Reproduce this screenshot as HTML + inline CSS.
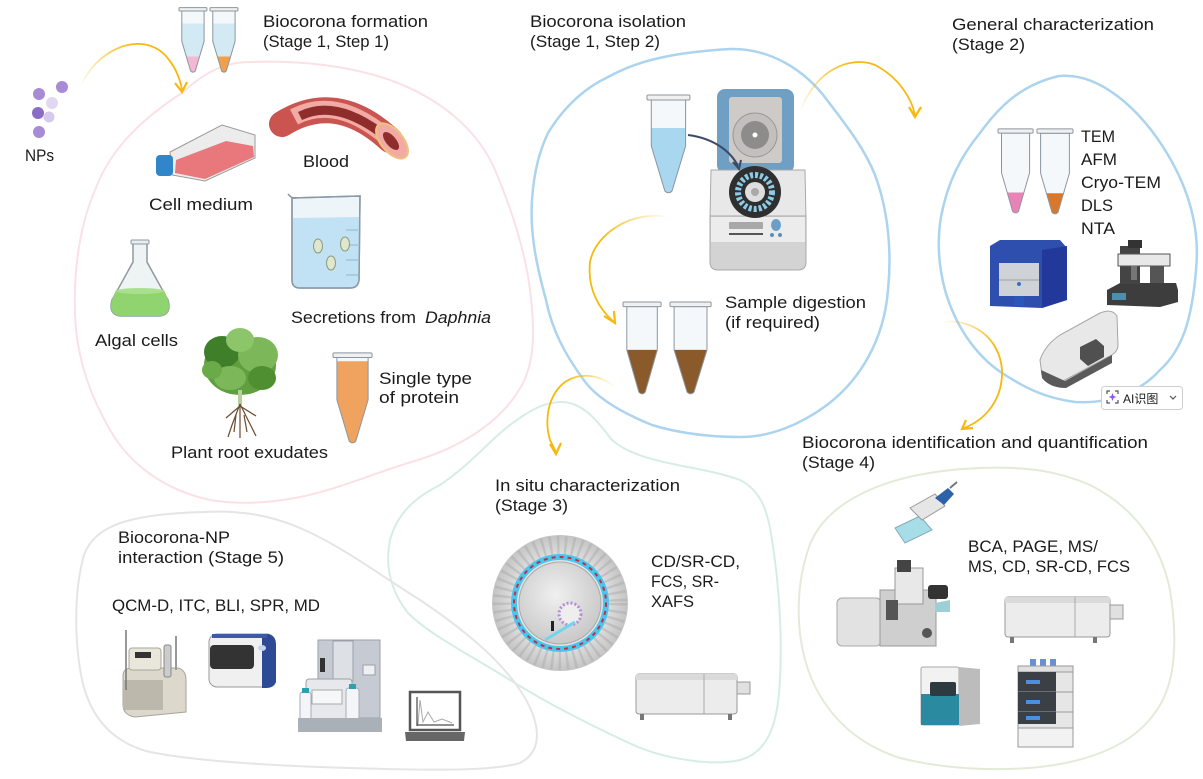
<!DOCTYPE html>
<html><head><meta charset="utf-8"><style>
html,body{margin:0;padding:0;background:#fff;}
svg{display:block;}
text{font-family:"Liberation Sans","Noto Sans CJK SC",sans-serif;fill:#1b1b1b;font-size:17px;}
</style></head><body>
<svg width="1203" height="779" viewBox="0 0 1203 779" xmlns="http://www.w3.org/2000/svg">
<defs>
 <linearGradient id="ga1" gradientUnits="userSpaceOnUse" x1="80" y1="88" x2="140" y2="50"><stop offset="0" stop-color="#f6b90f" stop-opacity="0"/><stop offset="1" stop-color="#f6b90f"/></linearGradient>
 <linearGradient id="ga2" gradientUnits="userSpaceOnUse" x1="800" y1="112" x2="850" y2="62"><stop offset="0" stop-color="#f6b90f" stop-opacity="0"/><stop offset="1" stop-color="#f6b90f"/></linearGradient>
 <linearGradient id="ga3" gradientUnits="userSpaceOnUse" x1="668" y1="217" x2="600" y2="235"><stop offset="0" stop-color="#f6b90f" stop-opacity="0"/><stop offset="1" stop-color="#f6b90f"/></linearGradient>
 <linearGradient id="ga4" gradientUnits="userSpaceOnUse" x1="616" y1="388" x2="565" y2="385"><stop offset="0" stop-color="#f6b90f" stop-opacity="0"/><stop offset="1" stop-color="#f6b90f"/></linearGradient>
 <linearGradient id="ga5" gradientUnits="userSpaceOnUse" x1="941" y1="322" x2="995" y2="350"><stop offset="0" stop-color="#f6b90f" stop-opacity="0"/><stop offset="1" stop-color="#f6b90f"/></linearGradient>
 <radialGradient id="sg" cx="0.5" cy="0.5" r="0.5"><stop offset="0" stop-color="#f4f4f4"/><stop offset="0.6" stop-color="#e6e6e6"/><stop offset="1" stop-color="#c4c4c4"/></radialGradient>
 <radialGradient id="sg2" cx="0.45" cy="0.4" r="0.6"><stop offset="0" stop-color="#f0f0f0"/><stop offset="1" stop-color="#c9c9c9"/></radialGradient>
</defs>

<!-- Blobs -->
<path d="M182,93 C205,72 225,62 250,62 C300,60 350,66 390,80 C440,98 478,130 495,170 C512,210 525,250 530,290 C535,330 535,360 522,385 C500,425 455,450 408,463 C370,475 335,490 300,497 C270,503 240,505 210,500 C165,490 130,465 110,430 C90,395 80,365 76,330 C72,280 78,230 95,190 C110,150 140,120 182,93 Z" fill="none" stroke="#fbe1e6" stroke-width="2"/>
<path d="M730,49 C770,48 805,70 827,100 C850,130 865,150 875,175 C888,210 892,250 888,290 C884,340 860,380 827,405 C800,425 770,437 740,437 C705,437 675,432 652,425 C620,412 598,398 586,383 C565,355 552,330 546,300 C535,260 530,230 532,200 C534,170 540,150 548,133 C565,105 585,88 608,77 C630,65 660,53 730,49 Z" fill="none" stroke="#acd4ef" stroke-width="2.5"/>
<path d="M1059,76 C1100,72 1140,110 1165,150 C1190,190 1200,230 1196,270 C1192,320 1182,350 1160,370 C1140,392 1110,404 1075,402 C1045,398 1025,388 1002,373 C975,355 955,325 945,290 C937,260 938,235 941,217 C948,180 962,155 980,133 C998,108 1020,85 1059,76 Z" fill="none" stroke="#acd4ef" stroke-width="2.5"/>
<path d="M561,402 C585,402 600,425 612,440 C640,465 700,465 740,480 C760,490 768,510 772,540 C780,590 782,640 780,680 C778,720 770,752 740,760 C715,766 670,760 638,747 C600,730 550,705 510,680 C470,655 430,635 408,613 C390,590 385,565 390,540 C398,510 420,495 440,485 C470,465 490,440 510,425 C530,410 545,402 561,402 Z" fill="none" stroke="#d6ede6" stroke-width="2"/>
<path d="M204,512 C240,510 270,515 300,528 C340,545 380,575 420,600 C465,630 500,660 520,690 C540,720 545,750 520,763 C490,772 420,770 350,768 C280,766 200,762 150,752 C110,742 90,715 82,680 C74,640 74,590 84,555 C95,525 130,514 204,512 Z" fill="none" stroke="#e5e5e5" stroke-width="2"/>
<path d="M980,468 C1030,466 1060,472 1090,485 C1130,505 1160,540 1170,590 C1178,640 1175,680 1160,705 C1140,740 1100,760 1040,767 C990,772 940,768 900,758 C860,745 830,720 812,680 C795,640 795,590 808,550 C822,505 880,472 980,468 Z" fill="none" stroke="#e3ebd8" stroke-width="2"/>

<!-- Arrows -->
<g fill="none" stroke-width="1.8">
 <path d="M80,88 C95,50 140,30 165,55 C175,66 180,78 182,90" stroke="url(#ga1)"/>
 <path d="M800,112 C815,70 850,55 875,65 C900,78 912,100 915,115" stroke="url(#ga2)"/>
 <path d="M668,217 C630,210 595,235 590,262 C587,290 600,310 614,322" stroke="url(#ga3)"/>
 <path d="M616,388 C600,374 580,372 565,382 C548,395 544,420 550,440 L556,452" stroke="url(#ga4)"/>
 <path d="M941,322 C975,318 1000,340 1002,370 C1003,400 985,420 964,428" stroke="url(#ga5)"/>
</g>
<g fill="none" stroke="#f6b90f" stroke-width="2.2" stroke-linejoin="miter">
 <path d="M175,83 L182,92 L187,82"/>
 <path d="M909,107 L915,117 L921,107"/>
 <path d="M604,316 L615,323 L614,311"/>
 <path d="M550,444 L556,454 L561,443"/>
 <path d="M966,420 L962,429 L973,428"/>
</g>

<!-- NPs -->
<g>
 <circle cx="62" cy="87" r="6" fill="#a78bd6"/>
 <circle cx="39" cy="94" r="6" fill="#a78bd6"/>
 <circle cx="52" cy="103" r="6" fill="#e1d7f1"/>
 <circle cx="38" cy="113" r="6" fill="#8a6cc4"/>
 <circle cx="49" cy="117" r="5.5" fill="#d6c9ee"/>
 <circle cx="39" cy="132" r="6" fill="#a78bd6"/>
</g>

<!-- Tubes -->
<g transform="translate(179,7) scale(0.93,0.66)">
 <path d="M3,6 H27 V52 L17.5,97 Q15,100.5 12.5,97 L3,52 Z" fill="#f4f8fb"/>
 <path d="M3,25 H27 V52 L17.5,97 Q15,100.5 12.5,97 L3,52 Z" fill="#d3eaf5"/>
 <path d="M7.9,75 H22.1 L17.5,97 Q15,100.5 12.5,97 Z" fill="#f4b8d2"/>
 <path d="M3,6 H27 V52 L17.5,97 Q15,100.5 12.5,97 L3,52 Z" fill="none" stroke="#8c969e" stroke-width="1" vector-effect="non-scaling-stroke"/>
 <rect x="0" y="1" width="30" height="5" rx="1" fill="#f0f0f0" stroke="#8c969e" stroke-width="1" vector-effect="non-scaling-stroke"/>
</g>
<g transform="translate(210,7) scale(0.93,0.66)">
 <path d="M3,6 H27 V52 L17.5,97 Q15,100.5 12.5,97 L3,52 Z" fill="#f4f8fb"/>
 <path d="M3,25 H27 V52 L17.5,97 Q15,100.5 12.5,97 L3,52 Z" fill="#d3eaf5"/>
 <path d="M7.9,75 H22.1 L17.5,97 Q15,100.5 12.5,97 Z" fill="#f0a04c"/>
 <path d="M3,6 H27 V52 L17.5,97 Q15,100.5 12.5,97 L3,52 Z" fill="none" stroke="#8c969e" stroke-width="1" vector-effect="non-scaling-stroke"/>
 <rect x="0" y="1" width="30" height="5" rx="1" fill="#f0f0f0" stroke="#8c969e" stroke-width="1" vector-effect="non-scaling-stroke"/>
</g>
<g transform="translate(647,94) scale(1.43,1.0)">
 <path d="M3,6 H27 V52 L17.5,97 Q15,100.5 12.5,97 L3,52 Z" fill="#f4f8fb"/>
 <path d="M3,34 H27 V52 L17.5,97 Q15,100.5 12.5,97 L3,52 Z" fill="#a8d7ef"/>
 <path d="M3,6 H27 V52 L17.5,97 Q15,100.5 12.5,97 L3,52 Z" fill="none" stroke="#8c969e" stroke-width="1" vector-effect="non-scaling-stroke"/>
 <rect x="0" y="1" width="30" height="5" rx="1" fill="#f0f0f0" stroke="#8c969e" stroke-width="1" vector-effect="non-scaling-stroke"/>
</g>
<g transform="translate(623,301) scale(1.27,0.94)">
 <path d="M3,6 H27 V52 L17.5,97 Q15,100.5 12.5,97 L3,52 Z" fill="#f4f8fb"/>
 <path d="M3,52 H27 L17.5,97 Q15,100.5 12.5,97 Z" fill="#8b5a2b"/>
 <path d="M3,6 H27 V52 L17.5,97 Q15,100.5 12.5,97 L3,52 Z" fill="none" stroke="#8c969e" stroke-width="1" vector-effect="non-scaling-stroke"/>
 <rect x="0" y="1" width="30" height="5" rx="1" fill="#f0f0f0" stroke="#8c969e" stroke-width="1" vector-effect="non-scaling-stroke"/>
</g>
<g transform="translate(670,301) scale(1.37,0.94)">
 <path d="M3,6 H27 V52 L17.5,97 Q15,100.5 12.5,97 L3,52 Z" fill="#f4f8fb"/>
 <path d="M3,52 H27 L17.5,97 Q15,100.5 12.5,97 Z" fill="#8b5a2b"/>
 <path d="M3,6 H27 V52 L17.5,97 Q15,100.5 12.5,97 L3,52 Z" fill="none" stroke="#8c969e" stroke-width="1" vector-effect="non-scaling-stroke"/>
 <rect x="0" y="1" width="30" height="5" rx="1" fill="#f0f0f0" stroke="#8c969e" stroke-width="1" vector-effect="non-scaling-stroke"/>
</g>
<g transform="translate(998,128) scale(1.17,0.86)">
 <path d="M3,6 H27 V52 L17.5,97 Q15,100.5 12.5,97 L3,52 Z" fill="#f4f8fb"/>
 <path d="M7.9,75 H22.1 L17.5,97 Q15,100.5 12.5,97 Z" fill="#e983b7"/>
 <path d="M3,6 H27 V52 L17.5,97 Q15,100.5 12.5,97 L3,52 Z" fill="none" stroke="#8c969e" stroke-width="1" vector-effect="non-scaling-stroke"/>
 <rect x="0" y="1" width="30" height="5" rx="1" fill="#f0f0f0" stroke="#8c969e" stroke-width="1" vector-effect="non-scaling-stroke"/>
</g>
<g transform="translate(1037,128) scale(1.2,0.87)">
 <path d="M3,6 H27 V52 L17.5,97 Q15,100.5 12.5,97 L3,52 Z" fill="#f4f8fb"/>
 <path d="M7.9,75 H22.1 L17.5,97 Q15,100.5 12.5,97 Z" fill="#d9782c"/>
 <path d="M3,6 H27 V52 L17.5,97 Q15,100.5 12.5,97 L3,52 Z" fill="none" stroke="#8c969e" stroke-width="1" vector-effect="non-scaling-stroke"/>
 <rect x="0" y="1" width="30" height="5" rx="1" fill="#f0f0f0" stroke="#8c969e" stroke-width="1" vector-effect="non-scaling-stroke"/>
</g>
<g transform="translate(333,352) scale(1.3,0.92)">
 <path d="M3,6 H27 V52 L17.5,97 Q15,100.5 12.5,97 L3,52 Z" fill="#f4f8fb"/>
 <path d="M3,10 H27 V52 L17.5,97 Q15,100.5 12.5,97 L3,52 Z" fill="#f0a35e"/>
 <path d="M3,6 H27 V52 L17.5,97 Q15,100.5 12.5,97 L3,52 Z" fill="none" stroke="#8c969e" stroke-width="1" vector-effect="non-scaling-stroke"/>
 <rect x="0" y="1" width="30" height="5" rx="1" fill="#f0f0f0" stroke="#8c969e" stroke-width="1" vector-effect="non-scaling-stroke"/>
</g>

<!-- Cell culture flask -->
<path d="M170,152 L222,125 L255,135 L255,158 L205,181 L172,175 Z" fill="#ececec" stroke="#9a9a9a"/>
<path d="M176,160 L226,141 L253,146 L254,157 L205,179 L175,173 Z" fill="#e9787c"/>
<rect x="156" y="155" width="17" height="21" rx="4" fill="#2f86ca"/>

<!-- Blood vessel -->
<path d="M282,124 Q336,90 390,140" fill="none" stroke="#c95450" stroke-width="26" stroke-linecap="round"/>
<path d="M294,117 Q338,94 390,140" fill="none" stroke="#f2aba4" stroke-width="17"/>
<path d="M300,116 Q338,97 390,140" fill="none" stroke="#8f2d2d" stroke-width="9"/>
<ellipse cx="392" cy="141" rx="11" ry="21" transform="rotate(-40 392 141)" fill="#f2aba4" stroke="#f0c27a" stroke-width="2"/>
<ellipse cx="391" cy="141" rx="5" ry="11" transform="rotate(-40 391 141)" fill="#8f2d2d"/>

<!-- Beaker -->
<path d="M292,198 L360,196 L359,280 Q358,288 350,288 L300,288 Q292,288 292,280 Z" fill="#eef5f9" stroke="#8a9aa6" stroke-width="1.5"/>
<path d="M293,218 L359,217 L359,280 Q358,287 350,287 L300,287 Q293,287 293,280 Z" fill="#c1e2f4"/>
<path d="M292,198 L360,196 L359,280 Q358,288 350,288 L300,288 Q292,288 292,280 Z" fill="none" stroke="#8a9aa6" stroke-width="1.5"/>
<path d="M288,194 Q292,199 296,198" fill="none" stroke="#8a9aa6" stroke-width="1.5"/>
<g stroke="#8fb5cc" stroke-width="1"><line x1="346" y1="230" x2="358" y2="230"/><line x1="346" y1="245" x2="358" y2="245"/><line x1="346" y1="260" x2="358" y2="260"/><line x1="346" y1="275" x2="358" y2="275"/></g>
<g fill="#dfe7cf" stroke="#8a9a7a" stroke-width="1">
 <ellipse cx="318" cy="246" rx="4.5" ry="7"/><ellipse cx="345" cy="244" rx="4.5" ry="7"/><ellipse cx="331" cy="263" rx="4.5" ry="7"/>
</g>

<!-- Erlenmeyer -->
<path d="M133,243 L147,243 L147,262 L168,300 Q172,314 160,316 L120,316 Q108,314 112,300 L133,262 Z" fill="#eef3f4" stroke="#8d9aa0" stroke-width="1.5"/>
<path d="M116,290 L164,290 L168,300 Q172,314 160,316 L120,316 Q108,314 112,300 Z" fill="#8fd46f"/>
<ellipse cx="140" cy="291" rx="24" ry="3" fill="#a9e08e"/>
<rect x="131" y="240" width="18" height="4" rx="1" fill="#e8eef0" stroke="#8d9aa0"/>

<!-- Plant -->
<g>
 <ellipse cx="240" cy="365" rx="36" ry="30" fill="#5f9f3f"/>
 <ellipse cx="222" cy="352" rx="18" ry="16" fill="#3f7f2a"/>
 <ellipse cx="258" cy="355" rx="20" ry="18" fill="#7cb85a"/>
 <ellipse cx="240" cy="340" rx="14" ry="12" fill="#8cc56a"/>
 <ellipse cx="230" cy="378" rx="16" ry="12" fill="#7cb85a"/>
 <ellipse cx="262" cy="378" rx="14" ry="12" fill="#4f8f32"/>
 <ellipse cx="212" cy="370" rx="10" ry="9" fill="#6aaa48"/>
 <rect x="238" y="390" width="4" height="15" fill="#b7cf9a"/>
 <g stroke="#6a4a30" stroke-width="1.2" fill="none">
  <path d="M240,404 L232,425 L228,437"/><path d="M240,404 L240,438"/><path d="M240,404 L250,424 L256,436"/>
  <path d="M240,406 L226,418"/><path d="M240,406 L256,416"/><path d="M236,415 L234,432"/><path d="M244,415 L247,432"/>
 </g>
</g>

<!-- Centrifuge -->
<rect x="717" y="89" width="77" height="84" rx="8" fill="#6f9fc3"/>
<rect x="729" y="97" width="53" height="66" rx="3" fill="#cdcac8"/>
<circle cx="755" cy="135" r="22" fill="#c2bfbd" stroke="#9a9896"/>
<circle cx="755" cy="135" r="14" fill="#8e8c8a"/>
<circle cx="755" cy="135" r="2.5" fill="#fff"/>
<path d="M711,170 L805,170 L806,218 L710,218 Z" fill="#e8e8e8" stroke="#a9a9a9"/>
<path d="M710,216 L806,216 L806,262 Q806,270 798,270 L718,270 Q710,270 710,262 Z" fill="#d3d3d3" stroke="#a9a9a9"/>
<rect x="711" y="217" width="94" height="25" fill="#ececec"/>
<circle cx="755" cy="192" r="26" fill="#2f2f2f"/>
<circle cx="755" cy="192" r="17" fill="none" stroke="#8ccbe6" stroke-width="6" stroke-dasharray="3 2"/>
<circle cx="755" cy="192" r="10" fill="#dedede"/>
<circle cx="755" cy="192" r="4" fill="#a9a9a9"/>
<rect x="729" y="222" width="34" height="7" rx="1" fill="#a8a8a8"/>
<line x1="729" y1="234" x2="763" y2="234" stroke="#555" stroke-width="2"/>
<ellipse cx="776" cy="225" rx="5" ry="6" fill="#6a9fc6"/>
<circle cx="772" cy="235" r="2" fill="#5b8fba"/><circle cx="780" cy="235" r="2" fill="#5b8fba"/>
<path d="M688,135 C712,138 730,150 738,166" fill="none" stroke="#3b4a66" stroke-width="2"/>
<path d="M733,162 L739,169 L741,160" fill="none" stroke="#3b4a66" stroke-width="2"/>

<!-- Stage 2 instruments -->
<path d="M990,246 L1000,240 L1060,240 L1067,248 L1067,300 L1042,308 L990,306 Z" fill="#2f4fae"/>
<path d="M1042,250 L1067,246 L1067,300 L1042,308 Z" fill="#22399a"/>
<rect x="999" y="263" width="40" height="33" fill="#cfd3d8"/>
<line x1="999" y1="280" x2="1039" y2="280" stroke="#9aa0a8"/>
<circle cx="1019" cy="284" r="2" fill="#3a6fc0"/>
<rect x="1014" y="296" width="10" height="10" fill="#2b57b8"/>

<path d="M1107,290 L1120,283 L1176,283 L1178,290 L1178,302 L1160,307 L1107,305 Z" fill="#3d3d3d"/>
<rect x="1112" y="293" width="14" height="7" fill="#4a8fb0"/>
<rect x="1120" y="246" width="20" height="38" fill="#444"/>
<rect x="1118" y="254" width="52" height="12" fill="#e8e8e8" stroke="#555"/>
<rect x="1128" y="240" width="14" height="8" fill="#333"/>
<rect x="1131" y="266" width="6" height="14" fill="#777"/>
<rect x="1150" y="266" width="14" height="17" fill="#555"/>

<path d="M1040,360 Q1045,345 1060,335 L1100,313 Q1112,308 1117,316 L1118,345 Q1118,352 1110,356 L1065,380 Q1050,386 1042,375 Z" fill="#e8e8e8" stroke="#a5a5a5"/>
<path d="M1041,370 L1065,381 L1112,355 L1112,363 L1066,388 Q1050,388 1042,378 Z" fill="#5a5a5a"/>
<path d="M1080,347 L1096,339 L1104,346 L1104,357 L1088,366 L1080,359 Z" fill="#505050"/>

<!-- Synchrotron -->
<circle cx="560" cy="603" r="68" fill="url(#sg)"/>
<circle cx="560" cy="603" r="58" fill="none" stroke="#a8a8a8" stroke-width="18" stroke-dasharray="2.5 5" opacity="0.45"/>
<circle cx="560" cy="603" r="46" fill="none" stroke="#49c6ee" stroke-width="6"/>
<circle cx="560" cy="603" r="46" fill="none" stroke="#c0304a" stroke-width="2" stroke-dasharray="4 4"/>
<circle cx="560" cy="603" r="41" fill="url(#sg2)" stroke="#aaa"/>
<circle cx="570" cy="614" r="11" fill="#eee" stroke="#b48fd6" stroke-width="3" stroke-dasharray="2 2"/>
<path d="M545,640 L575,622" stroke="#6fd6f0" stroke-width="3"/>
<rect x="551" y="621" width="3" height="10" fill="#222"/>

<!-- Stage 3 spectrometer -->
<rect x="636" y="674" width="101" height="40" rx="3" fill="#ececec" stroke="#9a9a9a"/>
<rect x="636" y="674" width="101" height="6" fill="#dadada"/>
<line x1="704" y1="674" x2="704" y2="714" stroke="#aaa"/>
<rect x="737" y="682" width="13" height="12" fill="#e0e0e0" stroke="#9a9a9a"/>
<rect x="640" y="714" width="4" height="6" fill="#777"/><rect x="728" y="714" width="4" height="6" fill="#777"/>

<!-- Stage 4 -->
<path d="M895,528 L920,516 L932,530 L905,543 Z" fill="#a6dde6" stroke="#8ab"/>
<path d="M910,508 L935,494 L945,506 L922,520 Z" fill="#e6e6e6" stroke="#999"/>
<path d="M935,498 L948,488 L954,494 L944,505 Z" fill="#2d62a8"/>
<line x1="950" y1="488" x2="957" y2="482" stroke="#777" stroke-width="2"/>

<rect x="837" y="598" width="44" height="48" rx="5" fill="#e2e2e2" stroke="#aaa"/>
<rect x="880" y="590" width="56" height="56" fill="#cfcfcf" stroke="#999"/>
<rect x="895" y="568" width="28" height="36" fill="#e8e8e8" stroke="#999"/>
<rect x="897" y="560" width="14" height="12" fill="#444"/>
<rect x="928" y="585" width="20" height="14" rx="3" fill="#333"/>
<path d="M935,603 L950,600 L950,612 L935,612 Z" fill="#9ccfd6"/>
<circle cx="927" cy="633" r="5" fill="#555"/>
<rect x="886" y="600" width="12" height="20" fill="#555"/>

<rect x="1005" y="597" width="105" height="40" rx="3" fill="#ececec" stroke="#9a9a9a"/>
<rect x="1005" y="597" width="105" height="6" fill="#dadada"/>
<line x1="1075" y1="597" x2="1075" y2="637" stroke="#aaa"/>
<rect x="1110" y="605" width="13" height="14" fill="#e0e0e0" stroke="#9a9a9a"/>
<rect x="1010" y="637" width="4" height="6" fill="#777"/><rect x="1093" y="637" width="4" height="6" fill="#777"/>

<rect x="921" y="667" width="38" height="58" rx="2" fill="#f2f2f2" stroke="#aaa"/>
<rect x="921" y="694" width="38" height="31" fill="#2a8aa0"/>
<rect x="930" y="682" width="26" height="14" rx="2" fill="#2d3a40"/>
<path d="M959,667 L980,669 L980,724 L959,726 Z" fill="#bcbcbc"/>

<rect x="1030" y="659" width="6" height="8" fill="#6b8fd6"/><rect x="1040" y="659" width="6" height="8" fill="#6b8fd6"/><rect x="1050" y="659" width="6" height="8" fill="#6b8fd6"/>
<rect x="1018" y="666" width="55" height="6" fill="#e0e0e0" stroke="#999"/>
<rect x="1018" y="672" width="55" height="20" fill="#e6e6e6" stroke="#999"/>
<rect x="1018" y="672" width="38" height="20" fill="#3b3f46"/><rect x="1026" y="680" width="14" height="4" fill="#4d8ee0"/>
<rect x="1018" y="692" width="55" height="20" fill="#e6e6e6" stroke="#999"/>
<rect x="1018" y="692" width="38" height="20" fill="#3b3f46"/><rect x="1026" y="700" width="14" height="4" fill="#4d8ee0"/>
<rect x="1018" y="712" width="55" height="16" fill="#e6e6e6" stroke="#999"/>
<rect x="1018" y="712" width="38" height="12" fill="#3b3f46"/><rect x="1026" y="716" width="14" height="4" fill="#4d8ee0"/>
<rect x="1018" y="728" width="55" height="19" fill="#f2f2f2" stroke="#999"/>

<!-- Stage 5 -->
<path d="M123,676 Q123,668 132,668 L178,668 Q186,670 186,680 L186,712 L135,717 Q123,715 123,705 Z" fill="#dcd8cc" stroke="#aaa59a"/>
<rect x="123" y="680" width="40" height="30" fill="#bcb8ac"/>
<line x1="126" y1="630" x2="126" y2="690" stroke="#777" stroke-width="1.5"/>
<rect x="129" y="648" width="32" height="22" rx="3" fill="#e9e6dc" stroke="#aaa59a"/>
<rect x="135" y="652" width="16" height="6" fill="#333"/>
<rect x="164" y="645" width="7" height="32" rx="2" fill="#ccc" stroke="#888"/>
<line x1="176" y1="636" x2="176" y2="670" stroke="#999" stroke-width="2"/>

<rect x="209" y="634" width="66" height="53" rx="8" fill="#f0f0f0" stroke="#999"/>
<path d="M262,634 L268,634 Q276,636 276,644 L276,682 Q274,688 266,688 L262,688 Z" fill="#2c4a96"/>
<rect x="212" y="634" width="55" height="4" fill="#3c5aa6"/>
<rect x="210" y="645" width="44" height="24" rx="4" fill="#333"/>
<ellipse cx="262" cy="648" rx="4" ry="3" fill="#c8d4ea"/>

<rect x="318" y="640" width="62" height="78" fill="#c5cad3" stroke="#9aa0a8"/>
<rect x="333" y="641" width="20" height="40" fill="#dde1e6" stroke="#9aa0a8"/>
<rect x="363" y="665" width="12" height="10" fill="#eef0f3" stroke="#9aa0a8"/>
<rect x="320" y="658" width="5" height="14" fill="#333"/>
<rect x="306" y="679" width="46" height="44" rx="3" fill="#e6e8ec" stroke="#9aa0a8"/>
<rect x="312" y="690" width="30" height="14" fill="#f6f7f8" stroke="#aaa"/>
<rect x="300" y="692" width="11" height="32" rx="3" fill="#f3f5f7" stroke="#aab"/>
<rect x="302" y="688" width="7" height="5" fill="#2aa0b0"/>
<rect x="346" y="688" width="13" height="36" rx="3" fill="#f3f5f7" stroke="#aab"/>
<rect x="349" y="684" width="7" height="5" fill="#2aa0b0"/>
<rect x="298" y="718" width="84" height="14" fill="#aab0b8"/>

<rect x="410" y="692" width="50" height="38" fill="#fff" stroke="#555" stroke-width="2.5"/>
<path d="M417,726 L417,697 M417,725 L454,725" stroke="#222" stroke-width="1"/>
<path d="M418,724 L420,700 L423,722 L428,712 L434,722 L442,719 L452,723" fill="none" stroke="#aaa" stroke-width="1"/>
<path d="M405,732 L465,732 L464,741 L406,741 Z" fill="#666"/>

<!-- AI button -->
<rect x="1101.5" y="386.5" width="81" height="23" rx="3" fill="#fff" stroke="#cfcfcf"/>
<path d="M1107,394 V391 H1110 M1115,391 H1118 V394 M1118,400 V403 H1115 M1110,403 H1107 V400" fill="none" stroke="#555" stroke-width="1.2"/>
<path d="M1112.5,393 L1113.7,396 L1116.5,397 L1113.7,398 L1112.5,401 L1111.3,398 L1108.5,397 L1111.3,396 Z" fill="#8b5cf6"/>
<text x="1123" y="403" style="font-size:12px;font-family:'Liberation Sans','Noto Sans CJK SC',sans-serif">AI识图</text>
<path d="M1170,396 L1173,399 L1176,396" fill="none" stroke="#555" stroke-width="1.2"/>

<!-- Texts -->
<text x="263" y="27" textLength="165" lengthAdjust="spacingAndGlyphs">Biocorona formation</text>
<text x="263" y="47" textLength="126" lengthAdjust="spacingAndGlyphs">(Stage 1, Step 1)</text>
<text x="25" y="161" textLength="29" lengthAdjust="spacingAndGlyphs">NPs</text>
<text x="149" y="210" textLength="104" lengthAdjust="spacingAndGlyphs">Cell medium</text>
<text x="303" y="167" textLength="46" lengthAdjust="spacingAndGlyphs">Blood</text>
<text x="291" y="323" textLength="125" lengthAdjust="spacingAndGlyphs">Secretions from</text>
<text x="425" y="323" textLength="66" lengthAdjust="spacingAndGlyphs" font-style="italic">Daphnia</text>
<text x="95" y="346" textLength="83" lengthAdjust="spacingAndGlyphs">Algal cells</text>
<text x="379" y="384" textLength="93" lengthAdjust="spacingAndGlyphs">Single type</text>
<text x="379" y="403" textLength="80" lengthAdjust="spacingAndGlyphs">of protein</text>
<text x="171" y="458" textLength="157" lengthAdjust="spacingAndGlyphs">Plant root exudates</text>

<text x="530" y="27" textLength="156" lengthAdjust="spacingAndGlyphs">Biocorona isolation</text>
<text x="530" y="47" textLength="130" lengthAdjust="spacingAndGlyphs">(Stage 1, Step 2)</text>
<text x="725" y="308" textLength="141" lengthAdjust="spacingAndGlyphs">Sample digestion</text>
<text x="725" y="328" textLength="95" lengthAdjust="spacingAndGlyphs">(if required)</text>

<text x="952" y="30" textLength="202" lengthAdjust="spacingAndGlyphs">General characterization</text>
<text x="952" y="50" textLength="73" lengthAdjust="spacingAndGlyphs">(Stage 2)</text>
<text x="1081" y="142" textLength="34" lengthAdjust="spacingAndGlyphs">TEM</text>
<text x="1081" y="165" textLength="36" lengthAdjust="spacingAndGlyphs">AFM</text>
<text x="1081" y="188" textLength="80" lengthAdjust="spacingAndGlyphs">Cryo-TEM</text>
<text x="1081" y="211" textLength="32" lengthAdjust="spacingAndGlyphs">DLS</text>
<text x="1081" y="234" textLength="34" lengthAdjust="spacingAndGlyphs">NTA</text>

<text x="802" y="448" textLength="346" lengthAdjust="spacingAndGlyphs">Biocorona identification and quantification</text>
<text x="802" y="468" textLength="73" lengthAdjust="spacingAndGlyphs">(Stage 4)</text>
<text x="968" y="552" textLength="130" lengthAdjust="spacingAndGlyphs">BCA, PAGE, MS/</text>
<text x="968" y="572" textLength="162" lengthAdjust="spacingAndGlyphs">MS, CD, SR-CD, FCS</text>

<text x="495" y="491" textLength="185" lengthAdjust="spacingAndGlyphs">In situ characterization</text>
<text x="495" y="511" textLength="73" lengthAdjust="spacingAndGlyphs">(Stage 3)</text>
<text x="651" y="567" textLength="89" lengthAdjust="spacingAndGlyphs">CD/SR-CD,</text>
<text x="651" y="587" textLength="68" lengthAdjust="spacingAndGlyphs">FCS, SR-</text>
<text x="651" y="607" textLength="43" lengthAdjust="spacingAndGlyphs">XAFS</text>

<text x="118" y="543" textLength="112" lengthAdjust="spacingAndGlyphs">Biocorona-NP</text>
<text x="118" y="563" textLength="166" lengthAdjust="spacingAndGlyphs">interaction (Stage 5)</text>
<text x="112" y="611" textLength="208" lengthAdjust="spacingAndGlyphs">QCM-D, ITC, BLI, SPR, MD</text>
</svg>
</body></html>
